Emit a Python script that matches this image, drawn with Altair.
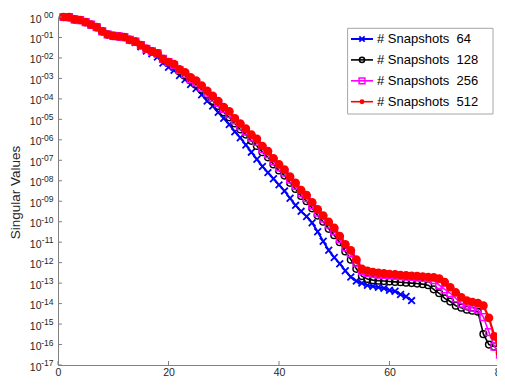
import altair as alt
import pandas as pd

# ---------------- data ----------------
idx = list(range(1, 81))

sv512 = [1.0, 0.98, 0.76, 0.71, 0.56, 0.42, 0.32, 0.2, 0.14, 0.12,
         1.12e-1, 1.05e-1, 7.6e-2, 6.3e-2, 4.2e-2, 2.8e-2, 2.1e-2, 1.66e-2, 8.9e-3, 6.3e-3,
         5.0e-3, 2.8e-3, 2.0e-3, 1.12e-3, 7.9e-4, 4.5e-4, 2.5e-4, 1.4e-4, 7.9e-5, 4.0e-5,
         2.5e-5, 1.12e-5, 6.3e-6, 3.5e-6, 1.8e-6, 1.12e-6, 5.0e-7, 2.8e-7, 1.26e-7, 6.3e-8,
         3.5e-8, 1.6e-8, 7.9e-9, 3.5e-9, 2.0e-9, 8.9e-10, 4.0e-10, 2.0e-10, 1.0e-10, 5.0e-11,
         2.0e-11, 7.9e-12, 4.0e-12, 1.4e-12, 5.0e-13, 4.0e-13, 3.5e-13, 3.2e-13, 3.0e-13, 2.8e-13,
         2.7e-13, 2.5e-13, 2.4e-13, 2.3e-13, 2.2e-13, 2.1e-13, 2.0e-13, 1.9e-13, 1.66e-13, 1.12e-13,
         6.3e-14, 3.5e-14, 2.0e-14, 1.4e-14, 1.2e-14, 1.05e-14, 7.9e-15, 2.0e-15, 2.5e-16, 4.0e-17]

sv256 = [1.0, 0.98, 0.76, 0.71, 0.56, 0.42, 0.32, 0.2, 0.14, 0.12,
         1.12e-1, 1.05e-1, 7.6e-2, 6.3e-2, 4.2e-2, 2.8e-2, 2.1e-2, 1.66e-2, 8.9e-3, 6.3e-3,
         4.5e-3, 2.5e-3, 1.6e-3, 8.9e-4, 6.3e-4, 3.5e-4, 2.0e-4, 1.12e-4, 6.3e-5, 3.2e-5,
         1.8e-5, 8.9e-6, 4.5e-6, 2.5e-6, 1.26e-6, 7.9e-7, 3.5e-7, 2.0e-7, 8.9e-8, 4.5e-8,
         2.5e-8, 1.12e-8, 5.6e-9, 2.5e-9, 1.4e-9, 6.3e-10, 2.8e-10, 1.4e-10, 7.1e-11, 3.5e-11,
         1.4e-11, 5.6e-12, 2.8e-12, 1.0e-12, 4.0e-13, 3.2e-13, 2.8e-13, 2.6e-13, 2.5e-13, 2.4e-13,
         2.3e-13, 2.2e-13, 2.1e-13, 2.0e-13, 1.9e-13, 1.8e-13, 1.74e-13, 1.4e-13, 7.9e-14, 5.0e-14,
         3.2e-14, 1.8e-14, 1.0e-14, 7.9e-15, 6.3e-15, 5.0e-15, 2.2e-15, 4.0e-16, 7.9e-17, 3.2e-17]

sv128 = [1.0, 0.98, 0.76, 0.71, 0.56, 0.42, 0.32, 0.2, 0.14, 0.12,
         1.12e-1, 1.05e-1, 7.6e-2, 6.3e-2, 4.2e-2, 2.8e-2, 2.1e-2, 1.66e-2, 8.9e-3, 6.3e-3,
         4.0e-3, 2.2e-3, 1.4e-3, 7.9e-4, 5.0e-4, 2.8e-4, 1.6e-4, 7.9e-5, 4.5e-5, 2.2e-5,
         1.26e-5, 6.3e-6, 3.2e-6, 1.8e-6, 8.9e-7, 5.0e-7, 2.5e-7, 1.4e-7, 6.3e-8, 3.2e-8,
         1.8e-8, 7.9e-9, 4.0e-9, 1.8e-9, 1.0e-9, 4.5e-10, 2.0e-10, 1.0e-10, 4.5e-11, 2.2e-11,
         1.0e-11, 3.5e-12, 1.4e-12, 5.0e-13, 2.2e-13, 1.6e-13, 1.4e-13, 1.32e-13, 1.26e-13, 1.2e-13,
         1.15e-13, 1.1e-13, 1.05e-13, 1.0e-13, 9.5e-14, 8.9e-14, 7.9e-14, 5.0e-14, 3.2e-14, 1.8e-14,
         1.26e-14, 7.9e-15, 6.3e-15, 5.0e-15, 4.5e-15, 4.0e-15, 3.2e-16, 1.0e-16, 7.9e-17, 1.0e-16]

sv64 = [1.0, 0.98, 0.76, 0.71, 0.56, 0.42, 0.32, 0.2, 0.14, 0.12,
        1.12e-1, 1.05e-1, 7.6e-2, 5.6e-2, 3.5e-2, 2.2e-2, 1.6e-2, 1.12e-2, 5.6e-3, 3.5e-3,
        2.5e-3, 1.4e-3, 8.9e-4, 5.0e-4, 3.2e-4, 1.6e-4, 7.9e-5, 4.5e-5, 2.2e-5, 1.12e-5,
        5.6e-6, 2.5e-6, 1.26e-6, 5.6e-7, 2.5e-7, 1.12e-7, 5.0e-8, 2.5e-8, 1.26e-8, 6.3e-9,
        3.2e-9, 1.4e-9, 6.3e-10, 3.2e-10, 1.8e-10, 8.9e-11, 3.2e-11, 1.12e-11, 4.0e-12, 1.8e-12,
        8.9e-13, 4.0e-13, 2.0e-13, 1.26e-13, 1.0e-13, 7.9e-14, 7.1e-14, 6.3e-14, 5.6e-14, 4.5e-14,
        4.0e-14, 2.8e-14, 2.2e-14, 1.4e-14]

x_ticks = [0, 20, 40, 60, 80]
y_ticks = [1e0, 1e-1, 1e-2, 1e-3, 1e-4, 1e-5, 1e-6, 1e-7, 1e-8, 1e-9,
           1e-10, 1e-11, 1e-12, 1e-13, 1e-14, 1e-15, 1e-16, 1e-17]
y_exps = ["00", "-01", "-02", "-03", "-04", "-05", "-06", "-07", "-08", "-09",
          "-10", "-11", "-12", "-13", "-14", "-15", "-16", "-17"]

legend_labels = ["# Snapshots \u00a064", "# Snapshots \u00a0128",
                 "# Snapshots \u00a0256", "# Snapshots \u00a0512"]
y_title = "Singular Values"

# ---------------- styling ----------------
W, H = 442, 348
FONT = "Liberation Sans"
TXT = "#262626"
AX = "#808080"
XPATH = "M-1,-1L1,1M-1,1L1,-1"

xs = alt.Scale(domain=[0, 80], nice=False, zero=False)
ys = alt.Scale(type="log", domain=[1e-17, 1], nice=False)

X = alt.X("x:Q", scale=xs,
          axis=alt.Axis(values=x_ticks, ticks=False, labelPadding=2, labelFontSize=10.5,
                        labelColor=TXT, labelFont=FONT, domainColor=AX, domainWidth=1,
                        grid=False, title=None, labelFlush=False))
Y = alt.Y("y:Q", scale=ys,
          axis=alt.Axis(labels=False, ticks=False, grid=False, title=None,
                        domainColor=AX, domainWidth=1))


def series(vals, color, shape, size, filled, lw, mw):
    df = pd.DataFrame({"x": idx[:len(vals)], "y": vals})
    base = alt.Chart(df)
    line = base.mark_line(color=color, strokeWidth=lw).encode(x=X, y=Y)
    pts = base.mark_point(shape=shape, size=size, filled=filled, color=color,
                          strokeWidth=mw, opacity=1).encode(x=X, y=Y)
    return [line, pts]


layers = []
layers += series(sv64, "#0000ff", XPATH, 45, False, 2, 1.8)
layers += series(sv128, "#000000", "circle", 45, False, 1.6, 1.5)
layers += series(sv256, "#ff00ff", "square", 45, False, 1.6, 1.5)
layers += series(sv512, "#ff0000", "circle", 75, True, 2.2, 1)

# inward ticks
xt = pd.DataFrame({"x": x_ticks})
layers.append(alt.Chart(xt).mark_rule(color=AX, strokeWidth=1).encode(
    x=X, y=alt.value(H), y2=alt.value(H - 4)))
yt = pd.DataFrame({"y": y_ticks, "sup": y_exps, "base": ["10"] * len(y_ticks)})
layers.append(alt.Chart(yt).mark_rule(color=AX, strokeWidth=1).encode(
    y=Y, x=alt.value(0), x2=alt.value(4)))
# y tick labels 10^{nn}
layers.append(alt.Chart(yt).mark_text(align="right", baseline="middle", dy=2.5,
                                      fontSize=10.5, font=FONT, color=TXT).encode(
    y=Y, x=alt.value(-16.5), text="base:N"))
layers.append(alt.Chart(yt).mark_text(align="right", baseline="middle", dy=-2,
                                      fontSize=8.5, font=FONT, color=TXT).encode(
    y=Y, x=alt.value(-4.5), text="sup:N"))

# y title
layers.append(alt.Chart(pd.DataFrame({"t": [y_title]})).mark_text(
    angle=270, fontSize=13.5, font=FONT, color=TXT, baseline="middle", align="center").encode(
    x=alt.value(-42), y=alt.value(175.5), text="t:N"))

# legend
layers.append(alt.Chart(pd.DataFrame({"a": [0]})).mark_rect(
    fill="white", stroke="#a6a6a6", strokeWidth=1).encode(
    x=alt.value(289.6), x2=alt.value(435), y=alt.value(11.3), y2=alt.value(97)))
leg_rows = [22, 42.9, 63.8, 84.7]
leg_style = [("#0000ff", XPATH, 28, False, 2, 1.8),
             ("#000000", "circle", 26, False, 1.6, 1.5),
             ("#ff00ff", "square", 34, False, 1.6, 1.5),
             ("#ff0000", "circle", 24, True, 1.6, 1)]
for lab, yy, (c, shp, sz, fl, lw, mw) in zip(legend_labels, leg_rows, leg_style):
    d = pd.DataFrame({"t": [lab]})
    layers.append(alt.Chart(d).mark_rule(color=c, strokeWidth=lw).encode(
        x=alt.value(293), x2=alt.value(315), y=alt.value(yy)))
    layers.append(alt.Chart(d).mark_point(shape=shp, size=sz, filled=fl, color=c,
                                          strokeWidth=mw, opacity=1).encode(
        x=alt.value(304), y=alt.value(yy)))
    layers.append(alt.Chart(d).mark_text(align="left", baseline="middle", fontSize=13,
                                         font=FONT, color="#000000").encode(
        x=alt.value(319), y=alt.value(yy), text="t:N"))

chart = alt.layer(*layers).properties(
    width=W, height=H,
    padding={"left": 50, "top": 9, "right": -3, "bottom": 12},
    autosize=alt.AutoSizeParams(type="none"),
).configure_view(stroke=None)

chart.save("out.html", embed_options={"renderer": "svg", "actions": False})
